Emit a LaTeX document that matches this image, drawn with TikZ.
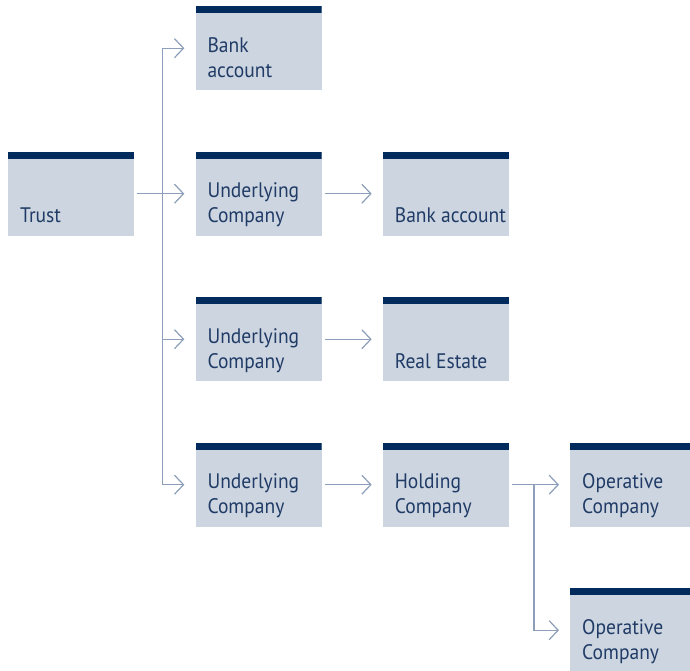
\documentclass[tikz,border=0pt]{standalone}
\usepackage{fontspec}
\setmainfont[FakeStretch=0.93]{PT Sans}
\usetikzlibrary{matrix,arrows.meta}
\definecolor{navy}{HTML}{002B5C}
\definecolor{boxfill}{HTML}{CDD5E0}
\definecolor{ink}{HTML}{1F3B66}
\definecolor{linkcol}{HTML}{8C9EBA}

\begin{document}
\begin{tikzpicture}[x=1pt,y=-1pt,
  entity/.style={fill=boxfill, text=ink, minimum width=126pt, minimum height=84pt,
    inner xsep=12pt, inner ysep=5.5pt, font=\fontsize{21}{25}\selectfont,
    path picture={\fill[navy] (path picture bounding box.north west)
      rectangle ([yshift=-7pt]path picture bounding box.north east);},
    execute at begin node={\begin{minipage}[c][65.5pt][b]{102pt}\raggedright},
    execute at end node={\strut\end{minipage}}},
  link/.style={draw=linkcol, line width=1.2pt, shorten >=11pt,
    -{Straight Barb[length=9pt,width=19pt]}}]
  \useasboundingbox (0,0) rectangle (690,670);
  \matrix (m) [matrix of nodes, nodes={entity}, row sep=61.5pt, column sep=61.33pt,
    anchor=north west, inner sep=0pt] at (8,6) {
     & Bank\newline account & & \\
     Trust & Underlying\newline Company & \mbox{Bank account} & \\
     & Underlying\newline Company & Real Estate & \\
     & Underlying\newline Company & Holding\newline Company & Operative\newline Company \\
     & & & Operative\newline Company \\};
  \coordinate (split) at ([xshift=28pt]m-2-1.east);
  \coordinate (fork) at ([xshift=25pt]m-4-3.east);
  \draw[link] (split) |- (m-1-2.west);
  \draw[link] (split |- m-1-2.west) |- (m-4-2.west);
  \draw[link] (split |- m-3-2.west) -- (m-3-2.west);
  \draw[link] (fork) |- (m-5-4.west);
  \path[link, shorten <=3pt]
    (m-2-1) edge (m-2-2)
    (m-2-2) edge (m-2-3)
    (m-3-2) edge (m-3-3)
    (m-4-2) edge (m-4-3)
    (m-4-3) edge (m-4-4);
\end{tikzpicture}
\end{document}
